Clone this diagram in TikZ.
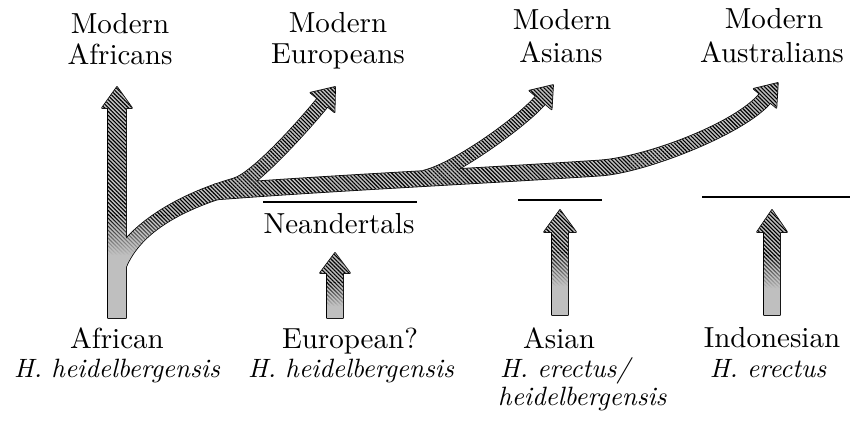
\documentclass[tikz,border=0pt]{standalone}
\usepackage{fontspec}
\newfontfamily\lmten{lmroman10-regular}[Extension=.otf, ItalicFont=lmroman10-italic, Ligatures=TeX]
\usetikzlibrary{calc,patterns,patterns.meta,fadings}
\tikzfading[name=hfade, top color=transparent!0, bottom color=transparent!100]
\tikzset{
  lbl/.style={inner sep=0pt, font=\lmten\fontsize{29}{30}\selectfont},
  ilbl/.style={inner sep=0pt, font=\lmten\itshape\fontsize{26.5}{28}\selectfont},
  outl/.style={draw=black, line width=1.6pt, line join=round},
  basefill/.style={fill=black!25},
  hatch/.style={pattern={Lines[angle=-45,distance=2.8pt,line width=1.1pt]}, pattern color=black},
  hline/.style={draw=black, line width=1.8pt},
}
% band segment: name, half width at start, at end, four Bezier points
\newcommand\mkseg[7]{%
  \coordinate (#1p0) at #4; \coordinate (#1p1) at #5;
  \coordinate (#1p2) at #6; \coordinate (#1p3) at #7;
  \coordinate (#1L0) at ($(#1p0)!#2!90:(#1p1)$);
  \coordinate (#1L1) at ($(#1p1)!#2!-90:(#1p0)$);
  \coordinate (#1L2) at ($(#1p2)!#3!90:(#1p3)$);
  \coordinate (#1L3) at ($(#1p3)!#3!-90:(#1p2)$);
  \coordinate (#1R0) at ($(#1p0)!#2!-90:(#1p1)$);
  \coordinate (#1R1) at ($(#1p1)!#2!90:(#1p0)$);
  \coordinate (#1R2) at ($(#1p2)!#3!-90:(#1p3)$);
  \coordinate (#1R3) at ($(#1p3)!#3!90:(#1p2)$);
}
% arrow head at end of a segment: name, half width, length
\newcommand\mkhead[3]{%
  \coordinate (#1HL) at ($(#1p3)!#2!-90:(#1p2)$);
  \coordinate (#1HR) at ($(#1p3)!#2!90:(#1p2)$);
  \coordinate (#1T) at ($(#1p3)!#3!180:(#1p2)$);
}
% tone fill of a shape: path, y where hatch starts fading, y where it is gone
\newcommand\tonefill[3]{%
  \begin{scope}
    \clip #1;
    \fill[basefill] (0,0) rectangle (850,423);
    \fill[hatch] (0,0) rectangle (850,#2);
    \fill[hatch, path fading=hfade] (0,#2) rectangle (850,#3);
  \end{scope}}
\begin{document}
\begin{tikzpicture}[x=1pt,y=-1pt]
\useasboundingbox (0,0) rectangle (850,423);

% ---- geometry of the curved branches
\mkseg{a}{8pt}{7.5pt}{(117,268)}{(130,232)}{(175,203)}{(235,186)}
\mkseg{b}{7.5pt}{6.5pt}{(235,186)}{(254.2,180.6)}{(303.6,125.8)}{(322.5,102.5)}
\mkhead{b}{15.5pt}{20pt}
\mkseg{h}{7.5pt}{7.5pt}{(215,192)}{(330,183)}{(480,176)}{(600,168)}
\mkseg{g}{7.5pt}{7pt}{(600,168)}{(645,165)}{(739.4,128.9)}{(765,98.3)}
\mkhead{g}{14.8pt}{20pt}
\mkseg{s}{6.5pt}{6pt}{(425,177)}{(455,170)}{(522.5,121.4)}{(540.5,100)}
\mkhead{s}{14.5pt}{19.5pt}

\def\pAf{(108,318) -- (108,108) -- (102,108) -- (117,87) -- (132,108) -- (126,108) -- (126,318) -- cycle}
\def\pEu{(aL0) .. controls (aL1) and (aL2) .. (aL3) .. controls (bL1) and (bL2) .. (bL3) -- (bHL) -- (bT) -- (bHR) -- (bR3) .. controls (bR2) and (bR1) .. (bR0) .. controls (aR2) and (aR1) .. (aR0) -- cycle}
\def\pAu{(hL0) .. controls (hL1) and (hL2) .. (hL3) .. controls (gL1) and (gL2) .. (gL3) -- (gHL) -- (gT) -- (gHR) -- (gR3) .. controls (gR2) and (gR1) .. (gR0) .. controls (hR2) and (hR1) .. (hR0) -- cycle}
\def\pAs{(sL0) .. controls (sL1) and (sL2) .. (sL3) -- (sHL) -- (sT) -- (sHR) -- (sR3) .. controls (sR2) and (sR1) .. (sR0) -- cycle}
\def\pSEu{(327,318) -- (327,273) -- (320,273) -- (335,253) -- (350,273) -- (343,273) -- (343,318) -- cycle}
\def\pSAs{(552,315) -- (552,232) -- (544,232) -- (560,210) -- (576,232) -- (568,232) -- (568,315) -- cycle}
\def\pSIn{(764,315) -- (764,232) -- (757,232) -- (772,210) -- (787,232) -- (780,232) -- (780,315) -- cycle}

% ---- outlines first, fills on top so that overlaps merge
\foreach \p in {\pAf,\pEu,\pAu,\pAs,\pSEu,\pSAs,\pSIn} {\draw[outl] \p;}
\tonefill{\pAf}{215}{255}
\tonefill{\pEu}{215}{255}
\tonefill{\pAu}{430}{440}
\tonefill{\pAs}{430}{440}
\tonefill{\pSEu}{282}{306}
\tonefill{\pSAs}{252}{286}
\tonefill{\pSIn}{255}{288}

% ---- horizontal bars
\coordinate (ne1) at (263,202); \coordinate (ne2) at (417,202);
\coordinate (as1) at (518,200); \coordinate (as2) at (602,200);
\coordinate (in1) at (702,197); \coordinate (in2) at (850,197);
\draw[hline] (ne1) -- (ne2);
\draw[hline] (as1) -- (as2);
\draw[hline] (in1) -- (in2);

% ---- labels
\node[lbl, anchor=base] (mAf1) at (120,33) {Modern};
\node[lbl, anchor=base] (mAf2) at (120,64) {Africans};
\node[lbl, anchor=base] (mEu1) at (338,32) {Modern};
\node[lbl, anchor=base] (mEu2) at (338,63) {Europeans};
\node[lbl, anchor=base] (mAs1) at (562,29) {Modern};
\node[lbl, anchor=base] (mAs2) at (561,62) {Asians};
\node[lbl, anchor=base] (mAu1) at (774,28) {Modern};
\node[lbl, anchor=base] (mAu2) at (772,62) {Australians};
\node[lbl, anchor=base] (nea) at (339,233) {Neandertals};
\node[lbl, anchor=base] (afr) at (117,348) {African};
\node[ilbl, anchor=base] (afrs) at (117,377) {H. heidelbergensis};
\node[lbl, anchor=base] (eur) at (350,348) {European?};
\node[ilbl, anchor=base] (eurs) at (351,377) {H. heidelbergensis};
\node[lbl, anchor=base] (asi) at (559,348) {Asian};
\node[ilbl, anchor=base west] (asis1) at (500,377) {H. erectus/};
\node[ilbl, anchor=base west] (asis2) at (498,405) {heidelbergensis};
\node[lbl, anchor=base] (ind) at (772,347) {Indonesian};
\node[ilbl, anchor=base] (inds) at (768,377) {H. erectus};
\end{tikzpicture}
\end{document}
